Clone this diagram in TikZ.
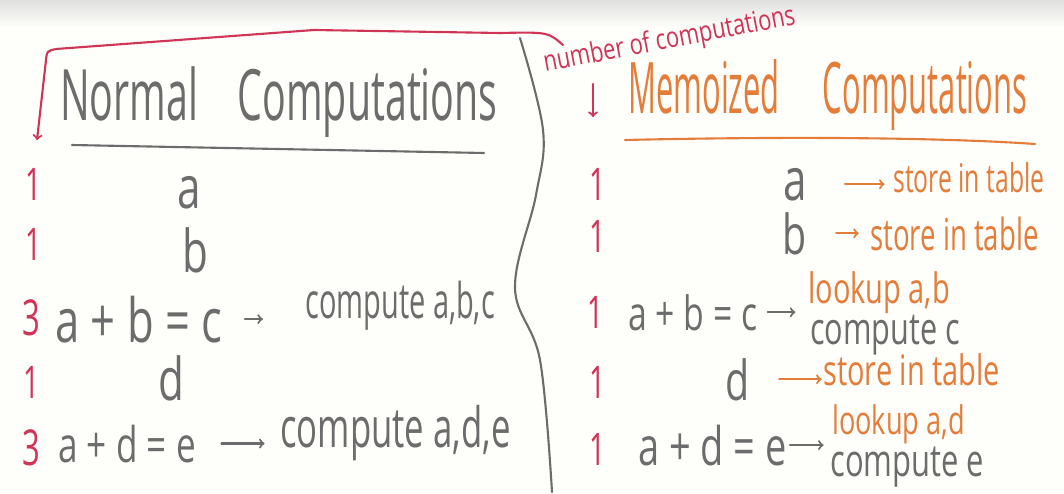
\documentclass[tikz,border=0pt]{standalone}
\usepackage{fontspec}
\setmainfont{Open Sans}
\usepackage{graphicx}
\usepackage{tikz}
\usetikzlibrary{arrows,positioning,calc}
\definecolor{WBgray}{RGB}{108,108,108}
\definecolor{WBorange}{RGB}{228,124,58}
\definecolor{WBred}{RGB}{208,52,86}
\definecolor{WBpaper}{RGB}{254,254,251}
% handwriting: size in pt, stretched upwards
\newcommand{\hw}[3][1.6]{\fontsize{#2}{#2}\selectfont\scalebox{1}[#1]{#3}}
\tikzstyle{wb}    = [inner sep=0pt, anchor=base west]
\tikzstyle{Tgray} = [wb, text=WBgray]
\tikzstyle{Torng} = [wb, text=WBorange]
\tikzstyle{Tred}  = [wb, text=WBred]
\tikzstyle{pen}   = [line width=1.5pt, line cap=round, line join=round]
\tikzstyle{garr}  = [pen, draw=WBgray, ->]
\tikzstyle{oarr}  = [pen, draw=WBorange, ->]

\begin{document}
\begin{tikzpicture}[x=0.025cm, y=-0.025cm, >=to]

  \useasboundingbox (0,0) rectangle (1064,493);
  \fill[WBpaper] (0,0) rectangle (1064,493);
  \shade[top color=black!12, bottom color=WBpaper] (0,0) rectangle (1064,28);

  % headings
  \node[Tgray] (hnorm) at (60,120) {\hw[1.8]{28}{Normal\hspace{1em}Computations}};
  \node[Torng] (hmemo) at (628,113) {\hw[2.3]{22}{Memoized\hspace{1.4em}Computations}};
  \node[Tred, rotate=10.8] (hnum) at (545,72) {\hw[1.3]{15.6}{number of computations}};
  \draw[pen, WBgray] (72,145) -- (484,153);
  \draw[pen, WBorange] (625,140) .. controls (800,136) and (950,138) .. (1035,144);

  % red brace and arrows
  \coordinate (bR) at (563,45);
  \coordinate (bL) at (37,140);
  \coordinate (dnA) at (593,84);
  \coordinate (dnB) at (593,117);
  \draw[pen, WBred, ->] (bR) .. controls (548,32) .. (500,33)
     -- (314,30) -- (56,49) .. controls (47,51) .. (46,60) -- (bL);
  \draw[pen, WBred, ->] (dnA) -- (dnB);

  % divider
  \draw[pen, WBgray] plot[smooth, tension=0.6] coordinates
     {(520,38) (543,130) (536,195) (515,288) (540,360) (552,492)};

  % normal computations
  \node[Tred]  (n1) at (25,200) {\hw{20}{1}};
  \node[Tgray] (la) at (177,208) {\hw[1.4]{30}{a}};
  \node[Tred]  (n2) at (25,260) {\hw{20}{1}};
  \node[Tgray] (lb) at (182,272) {\hw[1.4]{30}{b}};
  \node[Tred]  (n3) at (22,335) {\hw{22}{3}};
  \node[Tgray] (labc) at (55,342) {\hw[1.4]{31}{a + b = c}};
  \node[Tgray] (lcab) at (305,318) {\hw[1.7]{20.6}{compute a,b,c}};
  \node[Tred]  (n4) at (23,398) {\hw{20}{1}};
  \node[Tgray] (ld) at (158,400) {\hw[1.4]{30}{d}};
  \node[Tred]  (n5) at (22,465) {\hw{22}{3}};
  \node[Tgray] (lade) at (58,462) {\hw[1.4]{25}{a + d = e}};
  \node[Tgray] (lcad) at (280,447) {\hw{24.7}{compute a,d,e}};

  \draw[garr, shorten <=16pt, shorten >=30pt] (labc.east) -- (labc.east -| lcab.west);
  \draw[garr, shorten <=18pt, shorten >=11pt] (lade.east) -- (lade.east -| lcad.west);

  % memoized computations
  \node[Tred]  (m1) at (589,200) {\hw{20}{1}};
  \node[Tgray] (ra) at (783,200) {\hw[1.4]{30}{a}};
  \node[Torng] (rsa) at (893,192) {\hw{17.6}{store in table}};
  \node[Tred]  (m2) at (589,252) {\hw{20}{1}};
  \node[Tgray] (rb) at (782,254) {\hw[1.4]{28}{b}};
  \node[Torng] (rsb) at (870,250) {\hw{19.6}{store in table}};
  \node[Tred]  (m3) at (587,328) {\hw{20}{1}};
  \node[Tgray] (rabc) at (628,330) {\hw[1.4]{24}{a + b = c}};
  \node[Torng] (rlab) at (808,303) {\hw[1.45]{20.6}{lookup a,b}};
  \node[Tgray] (rcc) at (810,344) {\hw[1.45]{21.8}{compute c}};
  \node[Tred]  (m4) at (589,398) {\hw{20}{1}};
  \node[Tgray] (rd) at (725,400) {\hw[1.4]{28}{d}};
  \node[Torng] (rsd) at (823,385) {\hw[1.45]{20.6}{store in table}};
  \node[Tred]  (m5) at (589,465) {\hw{20}{1}};
  \node[Tgray] (rade) at (638,465) {\hw[1.4]{27}{a + d = e}};
  \node[Torng] (rlad) at (832,434) {\hw[1.45]{19.3}{lookup a,d}};
  \node[Tgray] (rce) at (830,476) {\hw[1.45]{22}{compute e}};

  \draw[oarr, shorten <=27pt, shorten >=6pt] (ra.east) -- (ra.east -| rsa.west);
  \draw[oarr, shorten <=21pt, shorten >=8pt] (rb.east) -- (rb.east -| rsb.west);
  \draw[garr, shorten <=7pt, shorten >=9pt] (rabc.east) -- (rabc.east -| rlab.west);
  \draw[oarr, shorten <=21pt, shorten >=1pt] (rd.east) -- (rd.east -| rsd.west);
  \draw[garr, shorten <=2pt, shorten >=6pt] (rade.east) -- (rade.east -| rlad.west);

\end{tikzpicture}
\end{document}
